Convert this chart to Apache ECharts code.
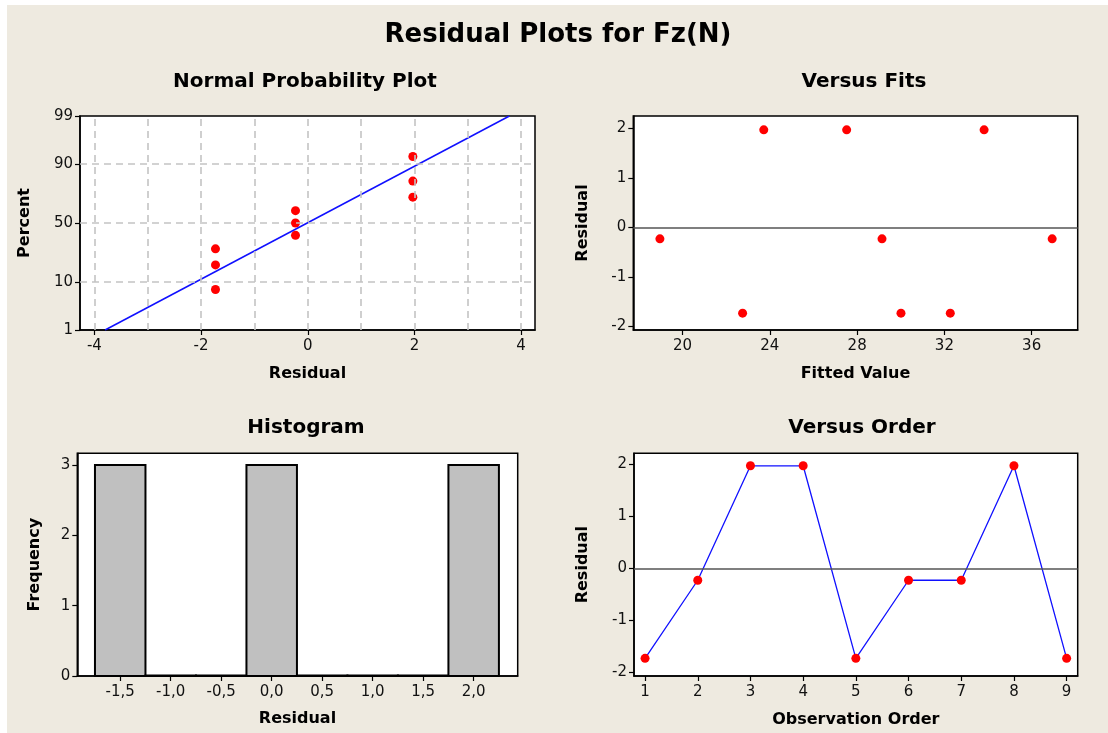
<!DOCTYPE html>
<html>
<head>
<meta charset="utf-8">
<title>Residual Plots for Fz(N)</title>
<script src="https://cdn.jsdelivr.net/npm/echarts@6/dist/echarts.min.js"></script>
<style>
  html, body { margin: 0; padding: 0; background: #ffffff; }
  #chart { position: absolute; left: 7px; top: 5px; width: 1101px; height: 728px; }
</style>
</head>
<body>
<div id="chart"></div>
<script>
// ---- data ----
// normal probability plot: ordered residuals and their plotting percents
const nppResidual = [-1.73, -1.73, -1.73, -0.23, -0.23, -0.23, 1.97, 1.97, 1.97];
const nppPercent = [7.4, 18.1, 28.7, 39.4, 50, 60.6, 71.3, 81.9, 92.6];
// fitted normal reference line (two end points)
const fitLineResidual = [-3.80, 3.78];
const fitLinePercent = [1, 99];
const percentTicks = [1, 10, 50, 90, 99];
const percentGrid = [10, 50, 90];
const nppResidualTicks = [-4, -2, 0, 2, 4];
const nppResidualGrid = [-4, -3, -2, -1, 0, 1, 2, 3, 4];

// versus fits
const fittedValues = [18.96, 22.75, 23.72, 27.52, 29.14, 30.01, 32.27, 33.82, 36.94];
const fitsResidual = [-0.23, -1.73, 1.97, 1.97, -0.23, -1.73, -1.73, 1.97, -0.23];
const fittedTicks = [20, 24, 28, 32, 36];
const residualTicks = [-2, -1, 0, 1, 2];

// histogram of residuals
const binCenters = [-1.5, -1.0, -0.5, 0.0, 0.5, 1.0, 1.5, 2.0];
const binFrequency = [3, 0, 0, 3, 0, 0, 0, 3];
const binWidth = 0.5;
const histTicks = [-1.5, -1.0, -0.5, 0.0, 0.5, 1.0, 1.5, 2.0];
const freqTicks = [0, 1, 2, 3];

// versus order
const observationOrder = [1, 2, 3, 4, 5, 6, 7, 8, 9];
const orderResidual = [-1.73, -0.23, 1.97, 1.97, -1.73, -0.23, -0.23, 1.97, -1.73];

// inverse standard normal CDF (Acklam)
function normInv(p) {
  const a = [-3.969683028665376e+01, 2.209460984245205e+02, -2.759285104469687e+02, 1.383577518672690e+02, -3.066479806614716e+01, 2.506628277459239e+00];
  const b = [-5.447609879822406e+01, 1.615858368580409e+02, -1.556989798598866e+02, 6.680131188771972e+01, -1.328068155288572e+01];
  const c = [-7.784894002430293e-03, -3.223964580411365e-01, -2.400758277161838e+00, -2.549732539343734e+00, 4.374664141464968e+00, 2.938163982698783e+00];
  const d = [7.784695709041462e-03, 3.224671290700398e-01, 2.445134137142996e+00, 3.754408661907416e+00];
  const pl = 0.02425, ph = 1 - pl;
  let q, r;
  if (p < pl) {
    q = Math.sqrt(-2 * Math.log(p));
    return (((((c[0]*q+c[1])*q+c[2])*q+c[3])*q+c[4])*q+c[5]) / ((((d[0]*q+d[1])*q+d[2])*q+d[3])*q+1);
  }
  if (p <= ph) {
    q = p - 0.5; r = q * q;
    return (((((a[0]*r+a[1])*r+a[2])*r+a[3])*r+a[4])*r+a[5])*q / (((((b[0]*r+b[1])*r+b[2])*r+b[3])*r+b[4])*r+1);
  }
  q = Math.sqrt(-2 * Math.log(1 - p));
  return -(((((c[0]*q+c[1])*q+c[2])*q+c[3])*q+c[4])*q+c[5]) / ((((d[0]*q+d[1])*q+d[2])*q+d[3])*q+1);
}
const pz = v => normInv(v / 100);

// ---- styling helpers ----
const FONT = 'DejaVu Sans';
const labelStyle = { fontFamily: FONT, fontSize: 15, color: '#111' };
const nameStyle = { fontFamily: FONT, fontSize: 16, fontWeight: 'bold', color: '#000' };
const axisLine = { show: true, onZero: false, lineStyle: { color: '#000', width: 1.5 } };
const tickStyle = { length: 5, lineStyle: { color: '#000', width: 1.2 } };
const comma = v => v.toFixed(1).replace('.', ',');
const dot = { color: '#ff0000', opacity: 1 };

function xAxisCfg(gridIndex, min, max, ticks, name, gap, fmt) {
  return {
    type: 'value', gridIndex, min, max,
    name, nameLocation: 'middle', nameGap: gap, nameTextStyle: nameStyle,
    axisLine,
    axisTick: Object.assign({ show: true, customValues: ticks }, tickStyle),
    axisLabel: Object.assign({ customValues: ticks, margin: 9, formatter: fmt || (v => String(v)) }, labelStyle),
    splitLine: { show: false }
  };
}
function yAxisCfg(gridIndex, min, max, ticks, name, gap, fmt) {
  return {
    type: 'value', gridIndex, min, max,
    name, nameLocation: 'middle', nameGap: gap, nameTextStyle: nameStyle, nameRotate: 90,
    axisLine,
    axisTick: Object.assign({ show: true, customValues: ticks }, tickStyle),
    axisLabel: Object.assign({ customValues: ticks, margin: 7, formatter: fmt || (v => String(v)) }, labelStyle),
    splitLine: { show: false }
  };
}

const gridLine = { color: '#c4c4c4', width: 1.6, type: [7, 5] };
const zeroLine = { color: '#555', width: 1.5, type: 'solid' };

const titleBase = { textAlign: 'center', padding: 0 };
const subStyle = { fontFamily: FONT, fontSize: 20, fontWeight: 'bold', color: '#000' };

const chart = echarts.init(document.getElementById('chart'));
chart.setOption({
  backgroundColor: '#EEEAE0',
  animation: false,
  title: [
    Object.assign({ text: 'Residual Plots for Fz(N)', left: 551, top: 17,
      textStyle: { fontFamily: FONT, fontSize: 26, fontWeight: 'bold', color: '#000' } }, titleBase),
    Object.assign({ text: 'Normal Probability Plot', left: 298, top: 67, textStyle: subStyle }, titleBase),
    Object.assign({ text: 'Versus Fits', left: 857, top: 67, textStyle: subStyle }, titleBase),
    Object.assign({ text: 'Histogram', left: 299, top: 413, textStyle: subStyle }, titleBase),
    Object.assign({ text: 'Versus Order', left: 855, top: 413, textStyle: subStyle }, titleBase)
  ],
  grid: [
    { left: 73, top: 111, width: 455, height: 214, show: true, backgroundColor: '#fff', borderColor: '#000', borderWidth: 1.5 },
    { left: 626.3, top: 111, width: 444.4, height: 214, show: true, backgroundColor: '#fff', borderColor: '#000', borderWidth: 1.5 },
    { left: 70.3, top: 448.3, width: 440.4, height: 222.7, show: true, backgroundColor: '#fff', borderColor: '#000', borderWidth: 1.5 },
    { left: 627, top: 448.3, width: 443.7, height: 222.7, show: true, backgroundColor: '#fff', borderColor: '#000', borderWidth: 1.5 }
  ],
  xAxis: [
    xAxisCfg(0, -4.27, 4.26, nppResidualTicks, 'Residual', 36),
    xAxisCfg(1, 17.74, 38.11, fittedTicks, 'Fitted Value', 36),
    xAxisCfg(2, -1.925, 2.436, histTicks, 'Residual', 35, comma),
    xAxisCfg(3, 0.79, 9.21, observationOrder, 'Observation Order', 36)
  ],
  yAxis: [
    yAxisCfg(0, pz(1), pz(99), percentTicks.map(pz), 'Percent', 47, v => {
      let best = percentTicks[0];
      percentTicks.forEach(p => { if (Math.abs(pz(p) - v) < Math.abs(pz(best) - v)) best = p; });
      return String(best);
    }),
    yAxisCfg(1, -2.07, 2.25, residualTicks, 'Residual', 42),
    yAxisCfg(2, 0, 3.167, freqTicks, 'Frequency', 34),
    yAxisCfg(3, -2.07, 2.21, residualTicks, 'Residual', 43)
  ],
  series: [
    // probability plot grid lines
    {
      type: 'line', xAxisIndex: 0, yAxisIndex: 0, data: [], silent: true,
      markLine: {
        silent: true, symbol: 'none', label: { show: false }, lineStyle: gridLine, animation: false,
        data: nppResidualGrid.map(v => ({ xAxis: v })).concat(percentGrid.map(p => ({ yAxis: pz(p) })))
      }
    },
    // fitted normal line
    {
      type: 'line', xAxisIndex: 0, yAxisIndex: 0, symbol: 'none', silent: true,
      lineStyle: { color: '#1010ff', width: 1.5 },
      data: fitLineResidual.map((r, i) => [r, pz(fitLinePercent[i])])
    },
    // probability plot points
    {
      type: 'scatter', xAxisIndex: 0, yAxisIndex: 0, symbolSize: 9,
      itemStyle: dot,
      data: nppResidual.map((r, i) => [r, pz(nppPercent[i])])
    },
    // residuals versus fitted values
    {
      type: 'scatter', xAxisIndex: 1, yAxisIndex: 1, symbolSize: 9,
      itemStyle: dot,
      data: fittedValues.map((f, i) => [f, fitsResidual[i]]),
      markLine: { silent: true, symbol: 'none', label: { show: false }, lineStyle: zeroLine, animation: false, data: [{ yAxis: 0 }] }
    },
    // histogram bars (empty bins show as a line on the baseline)
    {
      type: 'custom', xAxisIndex: 2, yAxisIndex: 2,
      data: binCenters.map((c, i) => [c, binFrequency[i]]),
      renderItem: (params, api) => {
        const c = api.value(0), f = api.value(1);
        const p0 = api.coord([c - binWidth / 2, f]);
        const p1 = api.coord([c + binWidth / 2, 0]);
        const h = Math.max(p1[1] - p0[1], 0.5);
        return {
          type: 'rect',
          shape: { x: p0[0], y: p1[1] - h, width: p1[0] - p0[0], height: h },
          style: { fill: '#c0c0c0', stroke: '#000', lineWidth: 2 }
        };
      }
    },
    // residuals versus observation order
    {
      type: 'line', xAxisIndex: 3, yAxisIndex: 3, symbol: 'circle', symbolSize: 9, showAllSymbol: true,
      lineStyle: { color: '#1010ff', width: 1.3 },
      itemStyle: dot,
      data: observationOrder.map((o, i) => [o, orderResidual[i]]),
      markLine: { silent: true, symbol: 'none', label: { show: false }, lineStyle: zeroLine, animation: false, data: [{ yAxis: 0 }] }
    }
  ]
});
</script>
</body>
</html>
